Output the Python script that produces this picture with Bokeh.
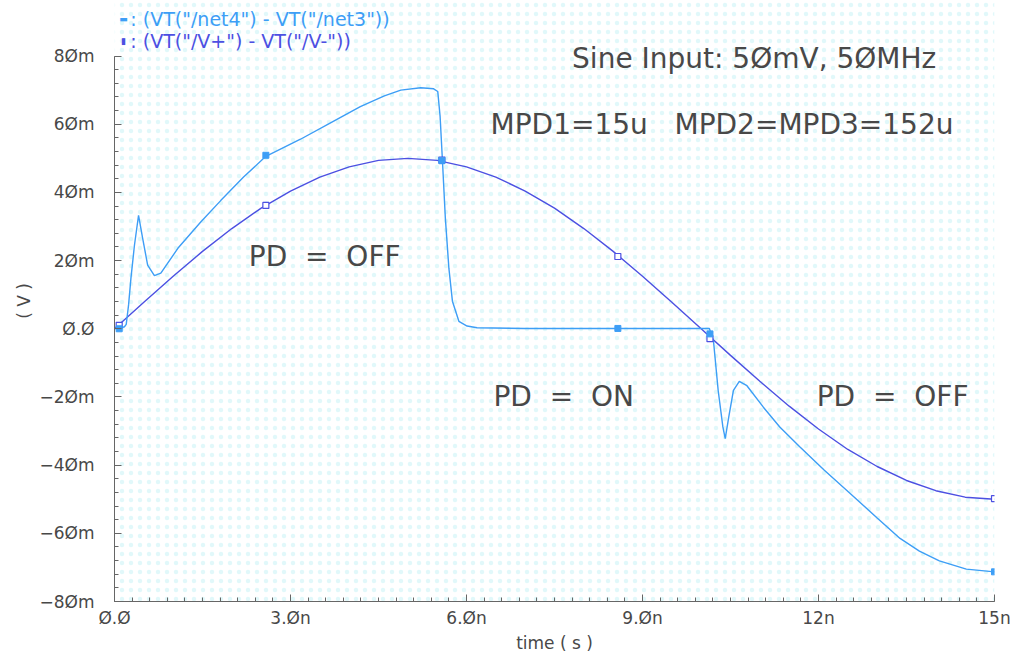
from bokeh.plotting import figure
from bokeh.models import FixedTicker, Label, BoxAnnotation, ColumnDataSource
from bokeh.embed import file_html
from bokeh.resources import INLINE

# ---------------- data (time in ns, voltage in mV) ----------------
t_in = [0, 0.5, 1, 1.5, 2, 2.5, 3, 3.5, 4, 4.5, 5, 5.5, 6, 6.5, 7, 7.5, 8, 8.5, 9,
        9.5, 10, 10.5, 11, 11.5, 12, 12.5, 13, 13.5, 14, 14.5, 15]
v_in = [0, 7.8, 15.4, 22.7, 29.4, 35.4, 40.4, 44.5, 47.5, 49.4, 50.0, 49.4, 47.5,
        44.5, 40.4, 35.4, 29.4, 22.7, 15.4, 7.8, 0, -7.8, -15.4, -22.7, -29.4,
        -35.4, -40.4, -44.5, -47.5, -49.4, -50.0]

t_out = [0, 0.1, 0.17, 0.2, 0.24, 0.28, 0.34, 0.41, 0.48, 0.565, 0.68, 0.79, 1.08,
         1.47, 1.81, 2.2, 2.58, 3.17, 3.69, 4.19, 4.6, 4.88, 5.22, 5.44, 5.51, 5.55,
         5.59, 5.64, 5.7, 5.76, 5.87, 6.01, 6.18, 7.0, 8.58, 10.14, 10.21, 10.29,
         10.37, 10.41, 10.47, 10.55, 10.65, 10.78, 11.06, 11.34, 11.68, 12.1, 12.54,
         13.0, 13.39, 13.72, 14.06, 14.52, 15.0]
v_out = [0, 0.2, 0.6, 1.3, 7.0, 14.8, 24.5, 33.3, 26.5, 18.7, 15.6, 16.3, 23.6,
         31.3, 37.6, 44.5, 50.6, 55.6, 60.5, 65.2, 68.3, 70.0, 70.7, 70.4, 69.6, 62.3,
         49.3, 32.3, 17.7, 8.1, 2.2, 0.8, 0.3, 0.1, 0.1, 0.1, -3.6, -18.1,
         -28.8, -32.2, -25.9, -18.1, -15.4, -16.7, -23.0, -28.8, -34.6, -41.5, -48.3,
         -55.5, -61.5, -65.2, -68.1, -70.5, -71.3]

t_mk = [0.08, 2.58, 5.58, 8.58, 10.15, 15.0]
v_in_mk = [1.0, 36.2, 49.5, 21.2, -2.9, -49.8]
v_out_mk = [0.0, 50.9, 49.3, 0.1, -1.5, -71.3]

y_ticks = [-80, -60, -40, -20, 0, 20, 40, 60, 80]
y_labels = ["−8Øm", "−6Øm", "−4Øm", "−2Øm", "Ø.Ø", "2Øm", "4Øm", "6Øm", "8Øm"]
x_ticks = [0, 3, 6, 9, 12, 15]
x_labels = ["Ø.Ø", "3.Øn", "6.Øn", "9.Øn", "12n", "15n"]

legend_out = '(VT("/net4") - VT("/net3"))'
legend_in = '(VT("/V+") - VT("/V-"))'

C_OUT = "#3d9ef6"
C_IN = "#4c50e2"
TXT = "#484848"
FONT = "DejaVu Sans"
NB = "\u00a0"

# frame reaches the top edge of the page; axes are bounded to the data span
p = figure(width=1016, height=655, output_backend="svg", toolbar_location=None,
           x_range=(0, 15), y_range=(-80, 96.3),
           min_border_left=114, min_border_right=22, min_border_top=0,
           min_border_bottom=49)
p.xgrid.visible = False
p.ygrid.visible = False
p.outline_line_color = None
p.background_fill_color = "white"
p.border_fill_color = "white"

dots = BoxAnnotation(fill_color=None, line_color=None, hatch_pattern=".",
                     hatch_color="#a8ecf0", hatch_alpha=0.35, hatch_scale=9,
                     level="underlay")
p.add_layout(dots)

src_in = ColumnDataSource(dict(t=t_in, v=v_in))
src_out = ColumnDataSource(dict(t=t_out, v=v_out))
p.line("t", "v", source=src_in, line_color=C_IN, line_width=1.4)
p.line("t", "v", source=src_out, line_color=C_OUT, line_width=1.4)
p.scatter(t_mk, v_in_mk, marker="square", size=6, fill_color="white",
          line_color=C_IN, line_width=1.2)
p.scatter(t_mk, v_out_mk, marker="square", size=6, fill_color=C_OUT,
          line_color=C_OUT)

for ax, ticks, labels in ((p.xaxis[0], x_ticks, x_labels), (p.yaxis[0], y_ticks, y_labels)):
    ax.major_label_overrides = {k: l for k, l in zip(ticks, labels)}
    ax.axis_line_color = "#666666"
    ax.major_tick_line_color = "#666666"
    ax.minor_tick_line_color = "#666666"
    ax.major_tick_in = 7
    ax.major_tick_out = 0
    ax.minor_tick_in = 4
    ax.minor_tick_out = 0
    ax.major_label_text_font = FONT
    ax.major_label_text_font_size = "17px"
    ax.major_label_text_color = TXT
    ax.axis_label_text_font = FONT
    ax.axis_label_text_font_size = "17px"
    ax.axis_label_text_font_style = "normal"
    ax.axis_label_text_color = TXT

# minor ticks: every 0.3 ns on x, every 4 mV on y
p.xaxis[0].ticker = FixedTicker(ticks=x_ticks,
                                minor_ticks=[i * 0.3 for i in range(51)])
p.yaxis[0].ticker = FixedTicker(ticks=y_ticks,
                                minor_ticks=[-80 + i * 4 for i in range(41)])
p.xaxis[0].bounds = (0, 15)
p.yaxis[0].bounds = (-80, 80)
p.xaxis[0].axis_label = "time ( s )"
p.yaxis[0].axis_label = "( V )"
p.xaxis[0].major_label_standoff = 6
p.xaxis[0].axis_label_standoff = 2
p.yaxis[0].major_label_standoff = 20
p.yaxis[0].axis_label_standoff = 2

def note(x, y, text, size="28px", color=TXT, align="left"):
    p.add_layout(Label(x=x, y=y, text=text, text_font=FONT, text_font_size=size,
                       text_color=color, text_baseline="middle", text_align=align))

note(7.8, 79.4, "Sine Input: 5ØmV, 5ØMHz")
note(6.41, 59.9, "MPD1=15u" + NB * 3 + "MPD2=MPD3=152u")
note(2.29, 21.2, "PD" + NB * 2 + "=" + NB * 2 + "OFF")
note(6.46, -19.8, "PD" + NB * 2 + "=" + NB * 2 + "ON")
note(11.97, -19.8, "PD" + NB * 2 + "=" + NB * 2 + "OFF")

# legend
note(0.08, 91.0, "▬", size="9px", color=C_OUT)
note(0.11, 84.4, "▮", size="9px", color=C_IN)
note(0.27, 91.0, ":" + NB + legend_out, size="19px", color=C_OUT)
note(0.27, 84.4, ":" + NB + legend_in, size="19px", color=C_IN)

open("out.html", "w").write(file_html(p, INLINE))
